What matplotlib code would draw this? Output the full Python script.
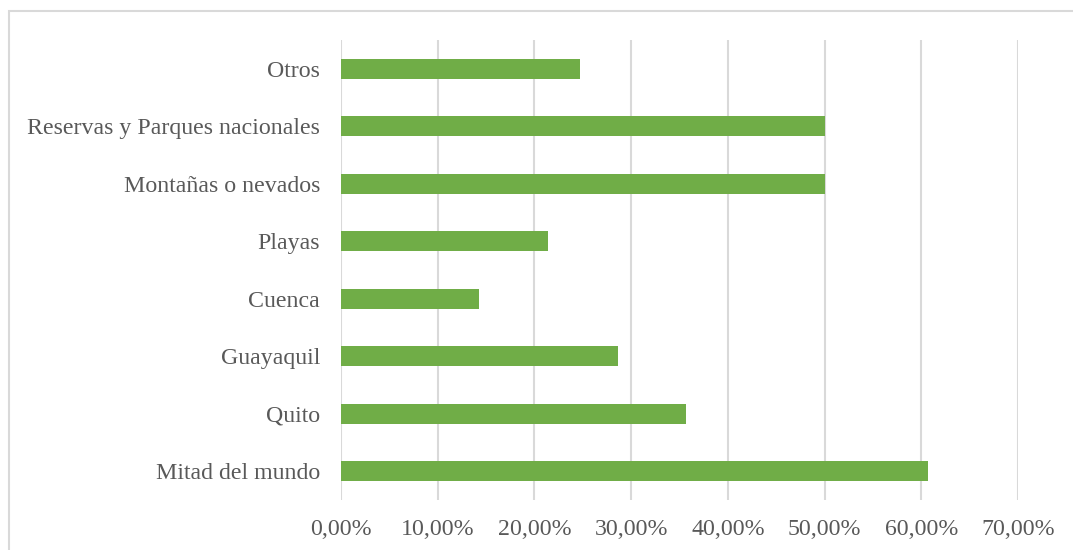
import matplotlib
matplotlib.use("Agg")
import matplotlib.pyplot as plt
from matplotlib.patches import Rectangle
from matplotlib.ticker import FuncFormatter

categories = ["Mitad del mundo", "Quito", "Guayaquil", "Cuenca", "Playas",
              "Montañas o nevados", "Reservas y Parques nacionales", "Otros"]
values = [60.7, 35.7, 28.6, 14.3, 21.4, 50.0, 50.0, 24.7]

plt.rcParams["font.family"] = ["Liberation Serif", "DejaVu Serif"]
text_color = "#595959"

fig = plt.figure(figsize=(10.73, 5.5), dpi=100)
ax = fig.add_axes([0.3178, 0.0909, 0.6310, 0.8364])

ax.barh(range(len(categories)), values, height=0.35, color="#70ad47", zorder=3)
ax.set_xlim(0, 70)
ax.set_ylim(-0.5, len(categories) - 0.5)
ax.set_xticks(range(0, 71, 10))
ax.xaxis.set_major_formatter(FuncFormatter(lambda v, _: f"{v:.2f}%".replace(".", ",")))
ax.set_yticks(range(len(categories)))
ax.set_yticklabels(categories)
ax.tick_params(axis="both", length=0, labelsize=17.2, colors=text_color)
ax.tick_params(axis="y", pad=15)
ax.tick_params(axis="x", pad=13.5)
ax.grid(axis="x", color="#d9d9d9", lw=1.5, zorder=0)
for s in ax.spines.values():
    s.set_visible(False)

# outer chart frame
fig.patches.append(Rectangle((9 / 1073, -0.1), 1.2, 1 - 11 / 550 + 0.1,
                             transform=fig.transFigure, fill=False,
                             edgecolor="#d9d9d9", lw=1.5))

fig.savefig("out.png", dpi=100)
